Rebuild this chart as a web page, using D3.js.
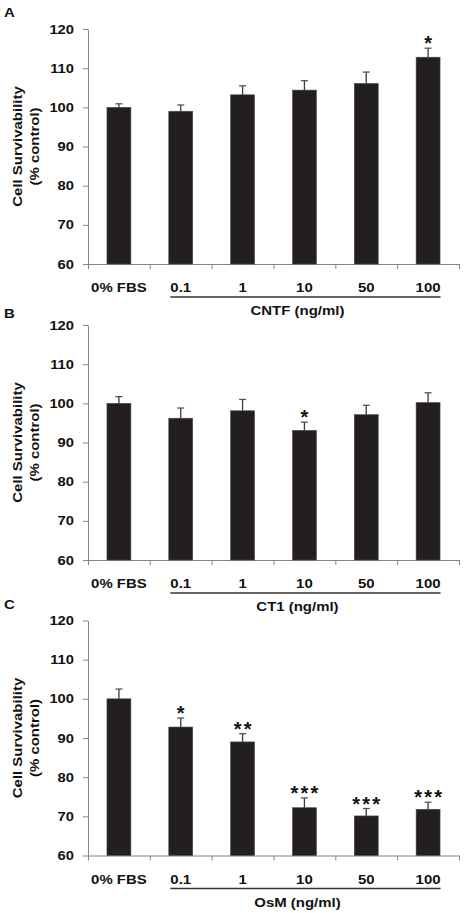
<!DOCTYPE html>
<html><head><meta charset="utf-8">
<script src="https://cdn.jsdelivr.net/npm/d3@7"></script>
<style>
body{margin:0;background:#fff}
svg{display:block}
text{font-family:"Liberation Sans",Arial,sans-serif;font-weight:bold;fill:#111}
</style>
</head><body>
<svg id="chart" width="464" height="913"></svg>
<script>
// ---- data ----
const categories = ["0% FBS", "0.1", "1", "10", "50", "100"];
const panelLetters = ["A", "B", "C"];
const treatmentLabels = ["CNTF (ng/ml)", "CT1 (ng/ml)", "OsM (ng/ml)"];
const cntfMeans  = [100, 99.0, 103.2, 104.4, 106.1, 112.8];
const cntfErrors = [0.9, 1.6, 2.3, 2.4, 2.9, 2.3];
const cntfStars  = ["", "", "", "", "", "*"];
const ct1Means   = [100, 96.2, 98.1, 93.1, 97.1, 100.2];
const ct1Errors  = [1.7, 2.6, 2.9, 2.1, 2.4, 2.5];
const ct1Stars   = ["", "", "", "*", "", ""];
const osmMeans   = [100, 92.8, 89.0, 72.2, 70.1, 71.8];
const osmErrors  = [2.5, 2.3, 2.1, 2.5, 1.9, 1.8];
const osmStars   = ["", "*", "**", "***", "***", "***"];
const yTicks = [60, 70, 80, 90, 100, 110, 120];
const yTitleLines = ["Cell Survivability", "(% control)"];

const panels = [
  {means: cntfMeans, errors: cntfErrors, stars: cntfStars, top: 29,    letterY: 17},
  {means: ct1Means,  errors: ct1Errors,  stars: ct1Stars,  top: 325,   letterY: 318},
  {means: osmMeans,  errors: osmErrors,  stars: osmStars,  top: 620.5, letterY: 609}
];

const svg = d3.select("#chart");
const left = 88, right = 459, plotH = 235;
const axisColor = "#858585";

function stretch(sel, k) {
  sel.each(function() {
    const L = this.getComputedTextLength();
    d3.select(this).attr("textLength", L * k).attr("lengthAdjust", "spacingAndGlyphs");
  });
}

panels.forEach((p, pi) => {
  const g = svg.append("g");
  const y = d3.scaleLinear().domain([60, 120]).range([p.top + plotH, p.top]);
  const x = d3.scaleBand().domain(categories).range([left, right])
    .paddingInner(0.613).paddingOuter(0.3065);
  const bounds = d3.scaleLinear().domain([0, categories.length]).range([left, right]);
  const base = y(60);

  // panel letter
  g.append("text").attr("x", 4).attr("y", p.letterY)
    .attr("font-size", 13).text(panelLetters[pi]).call(stretch, 1.15);

  // y axis
  const ya = g.append("g").attr("transform", `translate(${left},0)`)
    .call(d3.axisLeft(y).tickValues(yTicks).tickSize(5).tickSizeOuter(0).tickPadding(9));
  ya.select(".domain").attr("stroke", axisColor);
  ya.selectAll(".tick line").attr("stroke", axisColor);
  ya.selectAll(".tick text").attr("font-size", 12.5).attr("fill", "#111")
    .style("font-family", '"Liberation Sans",Arial,sans-serif').style("font-weight", "bold")
    .call(stretch, 1.18);

  // x axis (ticks at band boundaries)
  const xa = g.append("g").attr("transform", `translate(0,${base})`)
    .call(d3.axisBottom(bounds).ticks(categories.length).tickSize(5).tickSizeOuter(0).tickFormat(""));
  xa.select(".domain").attr("stroke", axisColor);
  xa.selectAll(".tick line").attr("stroke", axisColor);

  // bars
  g.selectAll("rect.bar").data(p.means).join("rect").attr("class", "bar")
    .attr("x", (d, i) => x(categories[i])).attr("width", x.bandwidth())
    .attr("y", d => y(d)).attr("height", d => base - y(d))
    .attr("fill", "#231f20").attr("stroke", "#4a4a4a").attr("stroke-width", 0.6);

  // error bars
  const cx = i => x(categories[i]) + x.bandwidth() / 2;
  g.selectAll("line.err").data(p.means).join("line").attr("class", "err")
    .attr("x1", (d, i) => cx(i)).attr("x2", (d, i) => cx(i))
    .attr("y1", d => y(d)).attr("y2", (d, i) => y(d + p.errors[i]))
    .attr("stroke", "#3a3a3a").attr("stroke-width", 1.3);
  g.selectAll("line.cap").data(p.means).join("line").attr("class", "cap")
    .attr("x1", (d, i) => cx(i) - 3.5).attr("x2", (d, i) => cx(i) + 3.5)
    .attr("y1", (d, i) => y(d + p.errors[i])).attr("y2", (d, i) => y(d + p.errors[i]))
    .attr("stroke", "#555").attr("stroke-width", 1.3);

  // significance stars
  p.stars.forEach((s, i) => {
    const k = s.length;
    for (let j = 0; j < k; j++) {
      g.append("text").attr("text-anchor", "middle").attr("font-size", 20)
        .attr("x", cx(i) + (j - (k - 1) / 2) * 10)
        .attr("y", y(p.means[i] + p.errors[i]) + 2)
        .text("*");
    }
  });

  // category labels
  const labs = g.selectAll("text.cat").data(categories).join("text").attr("class", "cat")
    .attr("text-anchor", "middle").attr("font-size", 13)
    .attr("x", d => x(d) + x.bandwidth() / 2).attr("y", base + 28)
    .text(d => d).call(stretch, 1.15);

  // underline from first treatment label to last
  const n1 = labs.nodes()[1].getBBox(), n5 = labs.nodes()[5].getBBox();
  g.append("line").attr("x1", n1.x).attr("x2", n5.x + n5.width)
    .attr("y1", base + 33).attr("y2", base + 33)
    .attr("stroke", "#333").attr("stroke-width", 1.3);

  // treatment label
  g.append("text").attr("text-anchor", "middle").attr("font-size", 13)
    .attr("x", (n1.x + n5.x + n5.width) / 2 - 8).attr("y", base + 51)
    .text(treatmentLabels[pi]).call(stretch, 1.15);

  // y title
  const mid = (p.top + base) / 2;
  [21.7, 39].forEach((bx, li) => {
    g.append("text").attr("text-anchor", "middle").attr("font-size", 13)
      .attr("transform", `translate(${bx},${mid}) rotate(-90)`)
      .text(yTitleLines[li]).call(stretch, 1.15);
  });
});
</script>
</body></html>
